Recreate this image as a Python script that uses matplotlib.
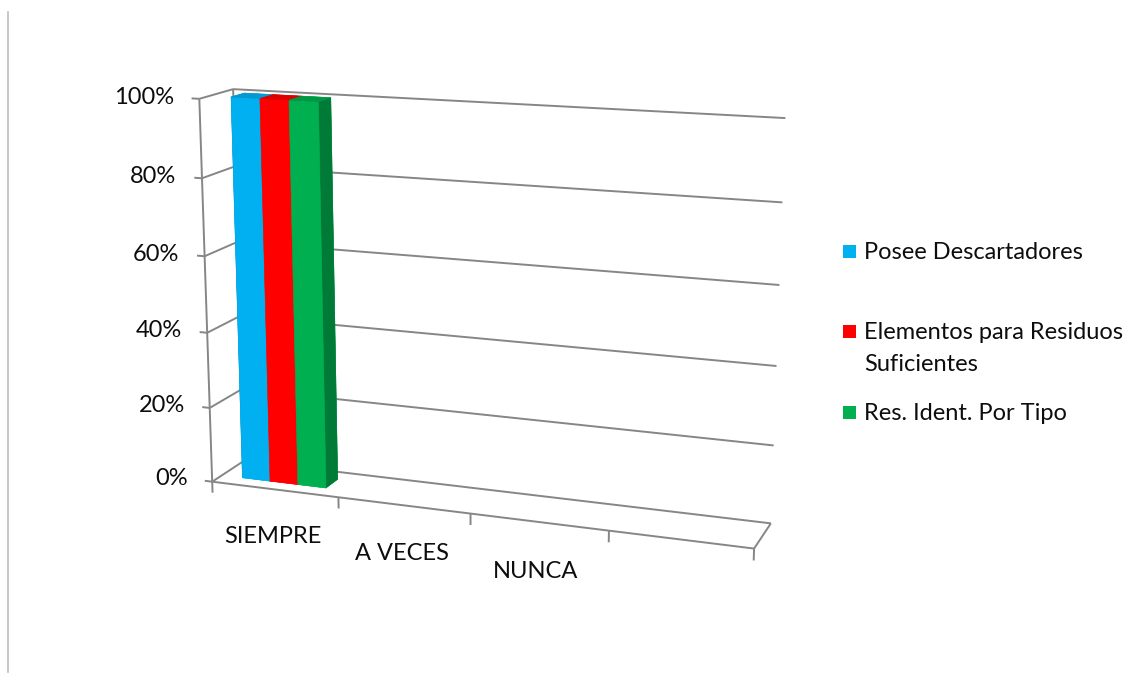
import numpy as np
import matplotlib
matplotlib.use("Agg")
import matplotlib.pyplot as plt
from matplotlib.patches import Rectangle
from matplotlib.lines import Line2D
from matplotlib.text import Text
from mpl_toolkits.mplot3d import proj3d

# ---------------- data ----------------
categories = ["SIEMPRE", "A VECES", "NUNCA", ""]
series_names = ["Posee Descartadores",
                "Elementos para Residuos\nSuficientes",
                "Res. Ident. Por Tipo"]
posee_descartadores = [1.00, 0.0, 0.0, 0.0]
elementos_residuos = [1.00, 0.0, 0.0, 0.0]
res_ident_tipo = [1.00, 0.0, 0.0, 0.0]
value_ticks = [0.0, 0.2, 0.4, 0.6, 0.8, 1.0]
value_tick_labels = ["0%", "20%", "40%", "60%", "80%", "100%"]

# ---------------- style ----------------
front_colors = ["#00B0F0", "#FF0000", "#00B050"]
top_colors = ["#0399D2", "#DC0000", "#009845"]
side_colors = ["#0083B3", "#B00000", "#007A37"]
grid_color = "#868686"
FONT = "Lato"
FS = 17
TXT = "#0d0d0d"

W, H = 1137, 675
fig = plt.figure(figsize=(W / 100, H / 100), dpi=100)
fig.patch.set_facecolor("white")

S = 760
cx, cy = 473, 320
ax = fig.add_axes([(cx - S / 2) / W, (H - cy - S / 2) / H, S / W, S / H],
                  projection="3d", computed_zorder=False)
ax.set_proj_type("persp", focal_length=0.5)
ax.view_init(elev=14, azim=-70)
ax.set_box_aspect((5.8, 0.75, 4.05), zoom=0.91)
ncat = len(categories)
ax.set_xlim(0, ncat)
ax.set_ylim(0, 1)
ax.set_zlim(0, 1)
ax.set_xticks([])
ax.set_yticks([])
ax.set_zticks([])
ax.set_axis_off()

lk = dict(color=grid_color, lw=1.4, solid_capstyle="butt")
# back wall + side wall gridlines
for v in value_ticks:
    ax.plot([0, ncat], [1, 1], [v, v], zorder=1, **lk)
    ax.plot([0, 0], [0, 1], [v, v], zorder=1, **lk)
ax.plot([0, 0], [1, 1], [0, 1], zorder=1, **lk)
# value axis
ax.plot([0, 0], [0, 0], [0, 1], zorder=2, **lk)
for v in value_ticks:
    ax.plot([-0.06, 0], [0, 0], [v, v], zorder=2, **lk)
# floor front and right edges
ax.plot([0, ncat], [0, 0], [0, 0], zorder=2, **lk)
ax.plot([ncat, ncat], [0, 1], [0, 0], zorder=2, **lk)
for i in range(ncat + 1):
    ax.plot([i, i], [0, 0], [0, -0.03], zorder=2, **lk)

# bars
series = [posee_descartadores, elementos_residuos, res_ident_tipo]
nser = len(series)
gap = 1.5
bw = 1.0 / (nser + gap)
xs, ys, zs, dxs, dys, dzs, fcols = [], [], [], [], [], [], []
for j, vals in enumerate(series):
    for i, v in enumerate(vals):
        if v <= 0:
            continue
        xs.append(i + gap * bw / 2 + j * bw)
        ys.append(0.3)
        zs.append(0.0)
        dxs.append(bw)
        dys.append(0.4)
        dzs.append(v)
        fcols += [front_colors[j], top_colors[j], front_colors[j],
                  front_colors[j], side_colors[j], side_colors[j]]
ax.bar3d(xs, ys, zs, dxs, dys, dzs, color=fcols, shade=False,
         edgecolor=fcols, linewidth=0.4, zorder=3)

# hide the unused internal texts of the 3D axes
for t in ax.findobj(Text):
    t.set_visible(False)

# tick labels: project the 3D anchor points with the axes' own projection
fig.canvas.draw()
M = ax.get_proj()


def label3d(x, y, z, s, **kw):
    px, py, _ = proj3d.proj_transform(x, y, z, M)
    dx, dy = ax.transData.transform((px, py))
    fig.text(dx / W, dy / H, s, fontsize=FS, family=FONT, color=TXT, **kw)


for v, lab in zip(value_ticks, value_tick_labels):
    label3d(-0.2, 0, v, lab, ha="right", va="center")
for i, lab in enumerate(categories):
    if lab:
        label3d(i + 0.48, 0, -0.13, lab, ha="center", va="center")

# legend (manual, Excel-like spacing)
leg_y = [252, 332, 413]
for name, col, y in zip(series_names, front_colors, leg_y):
    fig.patches.append(Rectangle((843 / W, 1 - (y + 6) / H), 13 / W, 13 / H,
                                 transform=fig.transFigure, facecolor=col,
                                 edgecolor="none"))
    first, *rest = name.split("\n")
    fig.text(864 / W, 1 - (y + 7) / H, first, ha="left", va="baseline",
             fontsize=FS, family=FONT, color=TXT)
    for k, line in enumerate(rest, start=1):
        fig.text(864 / W, 1 - (y + 7 + 32 * k) / H, line, ha="left",
                 va="baseline", fontsize=FS, family=FONT, color=TXT)

fig.add_artist(Line2D([8 / W, 8 / W], [1 - 12 / H, 1 - 672 / H],
                      color="#BFBFBF", lw=1.2, transform=fig.transFigure))

fig.savefig("out.png", dpi=100, facecolor="white")
